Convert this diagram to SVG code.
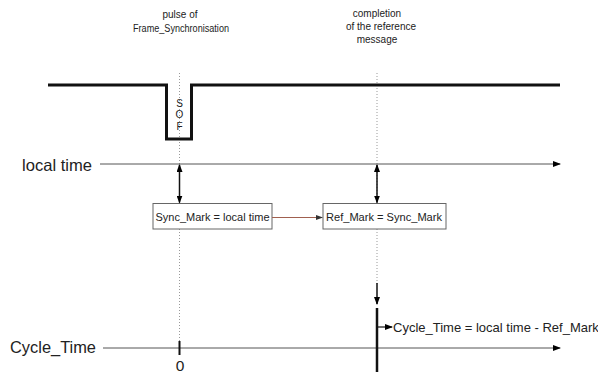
<svg xmlns="http://www.w3.org/2000/svg" width="598" height="374" viewBox="0 0 598 374">
<defs>
<marker id="ah" markerWidth="8" markerHeight="6" refX="7" refY="3" orient="auto-start-reverse" markerUnits="userSpaceOnUse">
<path d="M0,0 L8,3 L0,6 z" fill="#000"/>
</marker>
<marker id="ahr" markerWidth="7" markerHeight="5" refX="6" refY="2.5" orient="auto" markerUnits="userSpaceOnUse">
<path d="M0,0 L7,2.5 L0,5 z" fill="#333"/>
</marker>
<style>
text{font-family:"Liberation Sans",Arial,sans-serif;fill:#222}
.small{font-size:10px}
.axis{stroke:#555;stroke-width:1;fill:none}
.dot{stroke:#999;stroke-width:1;stroke-dasharray:1,2;fill:none}
.box rect{fill:#fff;stroke:#666;stroke-width:1}
.box text{font-size:11.3px}
.big{font-size:16.5px}
</style>
</defs>

<g id="labels">
<text class="small" x="180" y="18" text-anchor="middle">pulse of</text>
<text class="small" x="181" y="32" text-anchor="middle" textLength="96" lengthAdjust="spacingAndGlyphs">Frame_Synchronisation</text>
<text class="small" x="377" y="17" text-anchor="middle">completion</text>
<text class="small" x="381" y="30" text-anchor="middle">of the reference</text>
<text class="small" x="377" y="43" text-anchor="middle">message</text>
</g>

<g id="guides">
<line class="dot" x1="179.5" y1="73" x2="179.5" y2="342"/>
<line class="dot" x1="377" y1="73" x2="377" y2="284"/>
</g>

<g id="signal">
<path d="M48,85 H166.5 V139 H191.5 V85 H560" fill="none" stroke="#111" stroke-width="3"/>
<text x="179.5" y="107" font-size="10" text-anchor="middle">S</text>
<text x="179.5" y="118" font-size="10" text-anchor="middle">O</text>
<text x="179.5" y="130" font-size="10" text-anchor="middle">F</text>
</g>

<g id="local-time">
<text class="big" x="22" y="171" textLength="70" lengthAdjust="spacingAndGlyphs">local time</text>
<line class="axis" x1="100" y1="164" x2="560" y2="164" marker-end="url(#ah)"/>
</g>

<g id="cycle-time">
<text class="big" x="10" y="353" textLength="86" lengthAdjust="spacingAndGlyphs">Cycle_Time</text>
<line class="axis" x1="103" y1="348" x2="560" y2="348" marker-end="url(#ah)"/>
<line x1="179.5" y1="341" x2="179.5" y2="355" stroke="#111" stroke-width="2"/>
<text x="180" y="371" font-size="15.5" text-anchor="middle">0</text>
</g>

<g id="sync-mark" class="box">
<rect x="153" y="203.5" width="119" height="25.5"/>
<text x="155.5" y="221" textLength="114" lengthAdjust="spacingAndGlyphs">Sync_Mark = local time</text>
</g>

<g id="ref-mark" class="box">
<rect x="323" y="203.5" width="123" height="25.5"/>
<text x="326" y="221" textLength="116" lengthAdjust="spacingAndGlyphs">Ref_Mark = Sync_Mark</text>
</g>

<g id="cycle-calc">
<line x1="377" y1="308" x2="377" y2="372" stroke="#111" stroke-width="2.5"/>
<text x="393" y="332" font-size="13">Cycle_Time = local time - Ref_Mark</text>
</g>

<g id="connectors">
<line x1="179.5" y1="165" x2="179.5" y2="202.5" stroke="#111" stroke-width="1.5" marker-start="url(#ah)" marker-end="url(#ah)"/>
<line x1="377" y1="165" x2="377" y2="202.5" stroke="#111" stroke-width="1.5" marker-start="url(#ah)" marker-end="url(#ah)"/>
<line x1="272" y1="217.5" x2="322" y2="217.5" stroke="#a0604f" stroke-width="1" marker-end="url(#ahr)"/>
<line x1="377" y1="283" x2="377" y2="304" stroke="#111" stroke-width="1.5" marker-end="url(#ah)"/>
<line x1="378" y1="327" x2="392" y2="327" stroke="#111" stroke-width="1.2" marker-end="url(#ah)"/>
</g>
</svg>
